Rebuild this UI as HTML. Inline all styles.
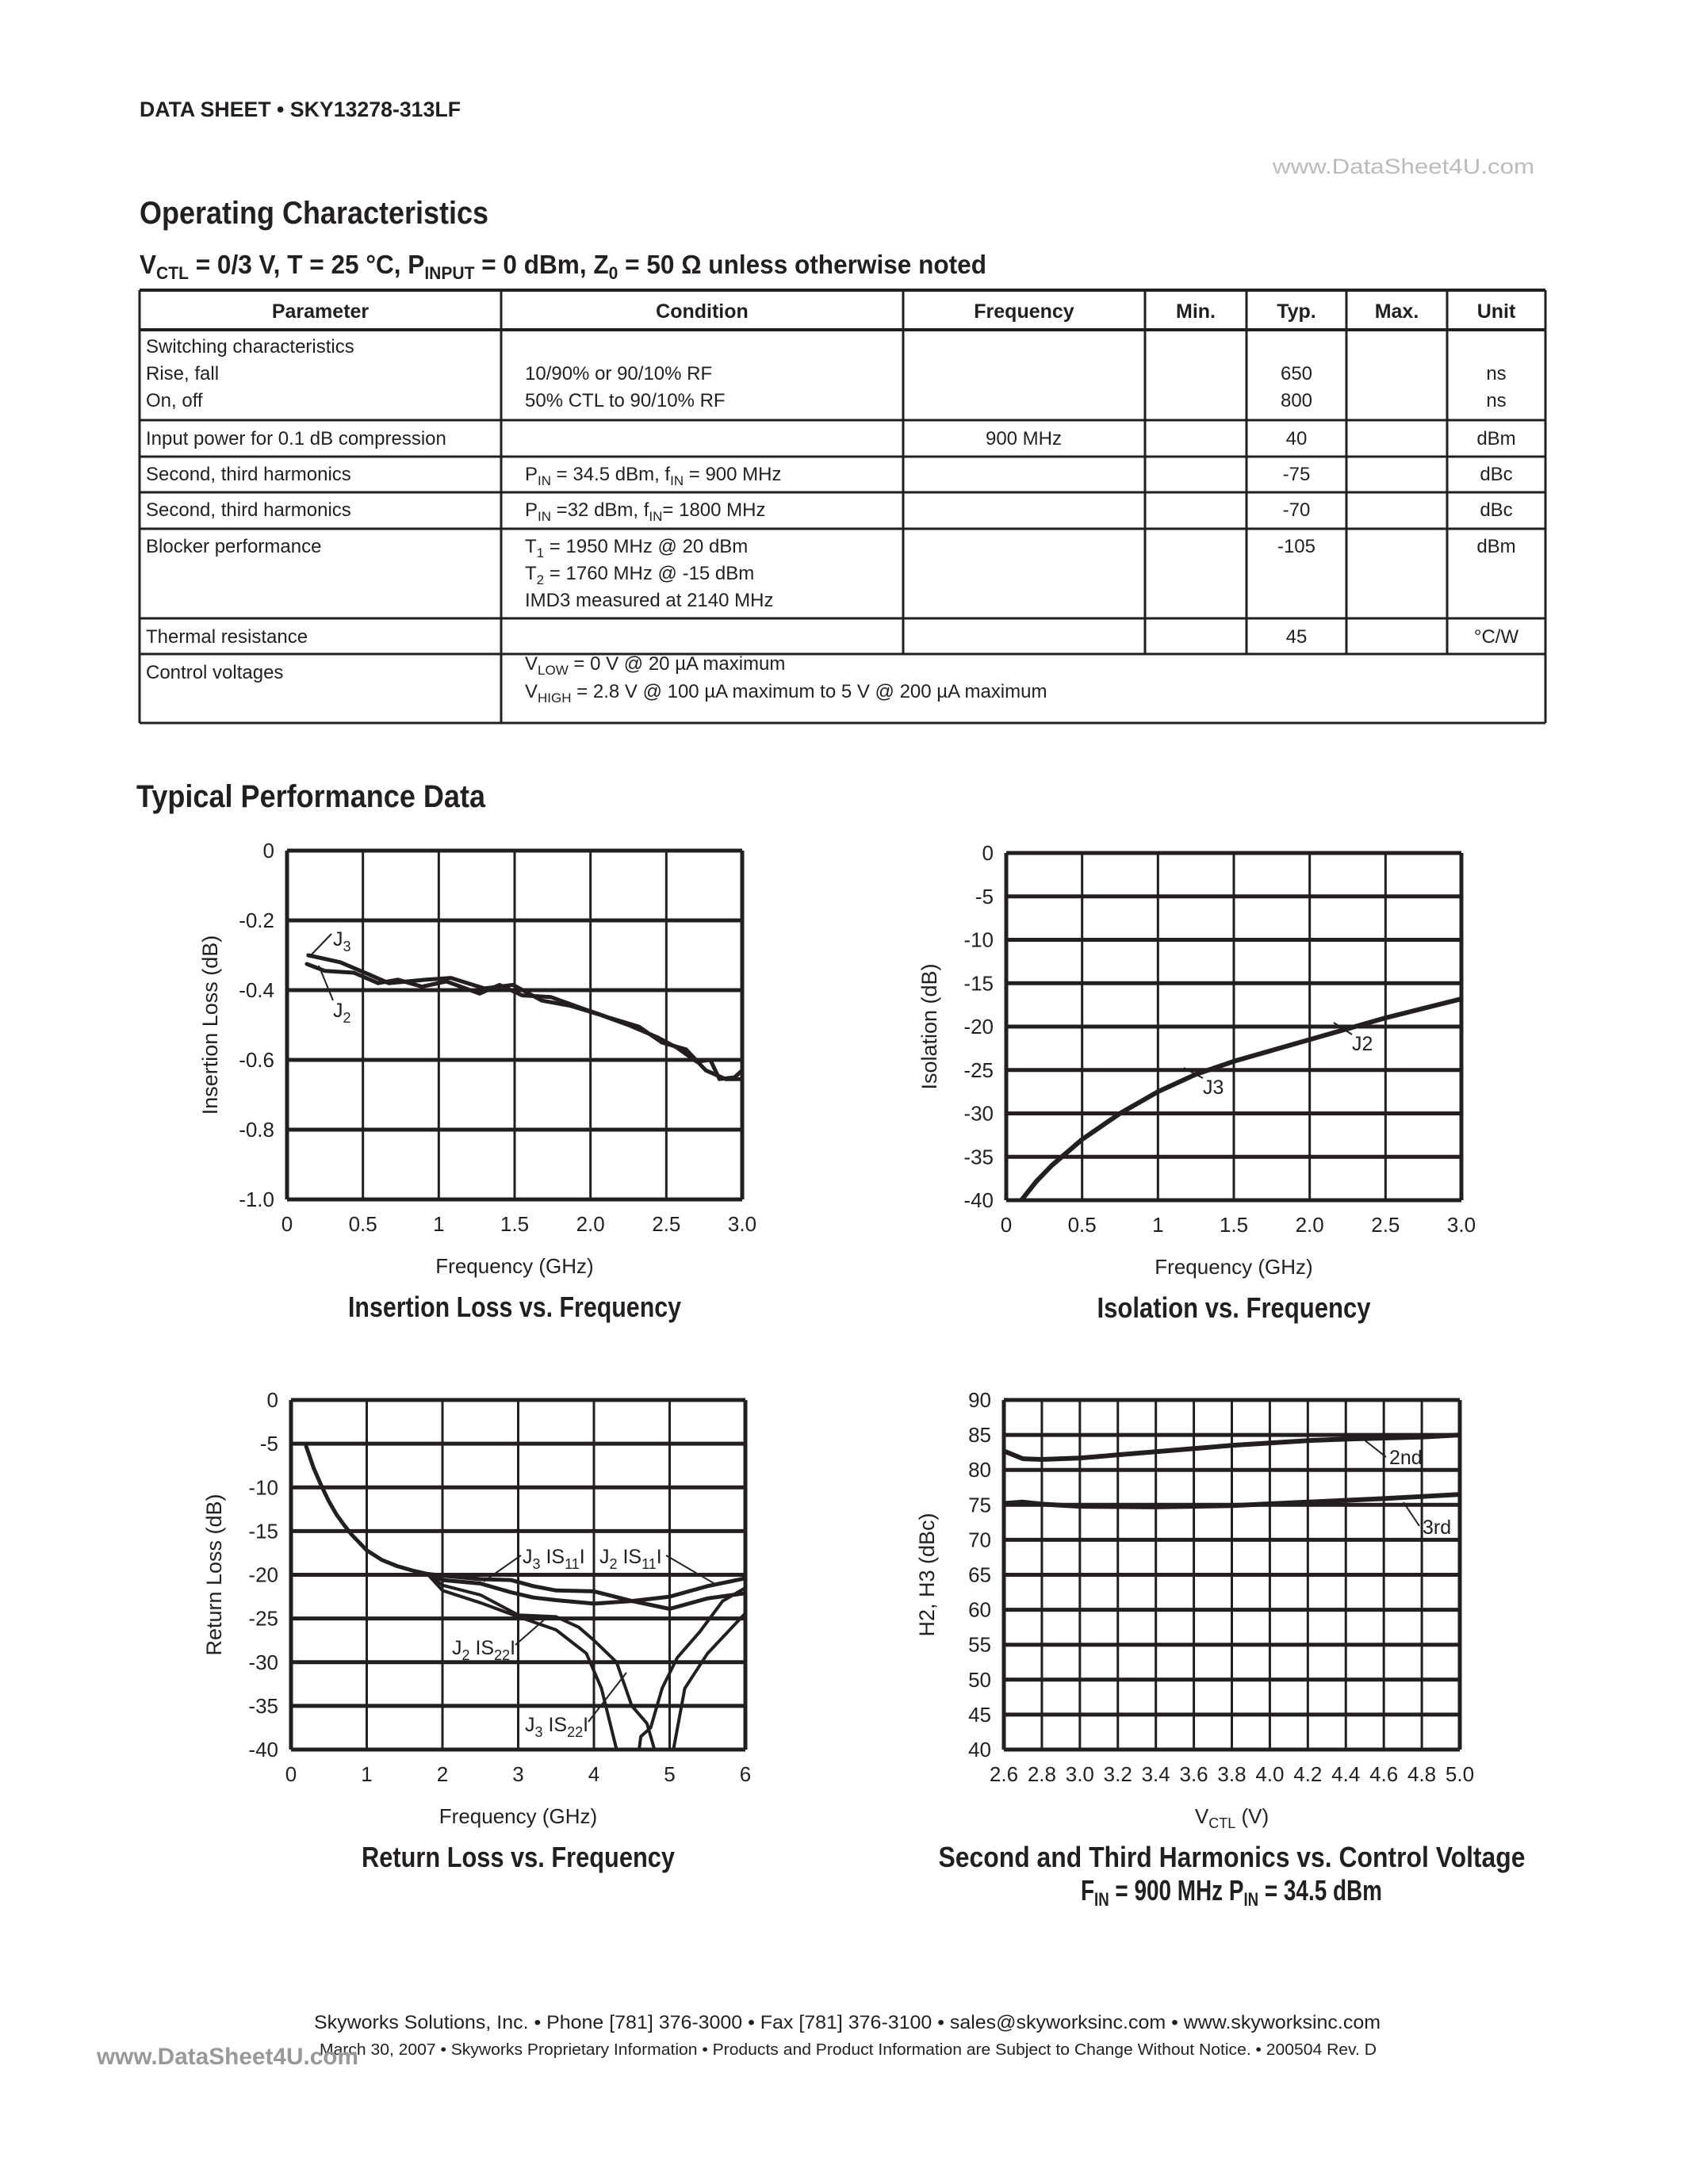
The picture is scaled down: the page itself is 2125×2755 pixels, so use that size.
<!DOCTYPE html>
<html><head><meta charset="utf-8">
<style>
body{margin:0;background:#fff}
svg text{font-family:"Liberation Sans Narrow","Liberation Sans",sans-serif;fill:#231f20}
.b{font-weight:bold}
</style></head>
<body>
<svg id="page" width="2125" height="2750" viewBox="0 0 2125 2750" xmlns="http://www.w3.org/2000/svg">
<text x="176" y="147" font-size="27" class="b" textLength="405" lengthAdjust="spacingAndGlyphs">DATA SHEET • SKY13278-313LF</text>
<text x="1605" y="219" font-size="27" style="fill:#bbb" textLength="330" lengthAdjust="spacingAndGlyphs">www.DataSheet4U.com</text>
<text x="176" y="282" font-size="40" class="b" textLength="440" lengthAdjust="spacingAndGlyphs">Operating Characteristics</text>
<text x="176" y="345" font-size="33" class="b" textLength="1068" lengthAdjust="spacingAndGlyphs">V<tspan font-size="22" dy="7">CTL</tspan><tspan dy="-7"> = 0/3 V, T = 25 °C, P</tspan><tspan font-size="22" dy="7">INPUT</tspan><tspan dy="-7"> = 0 dBm, Z</tspan><tspan font-size="22" dy="7">0</tspan><tspan dy="-7"> = 50 Ω unless otherwise noted</tspan></text>
<g id="table"></g>
<text x="172" y="1018" font-size="40" class="b" textLength="440" lengthAdjust="spacingAndGlyphs">Typical Performance Data</text>
<g id="c1"></g>
<g id="c2"></g>
<g id="c3"></g>
<g id="c4"></g>
<text x="396" y="2559" font-size="24" textLength="1345" lengthAdjust="spacingAndGlyphs">Skyworks Solutions, Inc.  •  Phone [781] 376-3000  •  Fax [781] 376-3100  •  sales@skyworksinc.com  •  www.skyworksinc.com</text>
<text x="403" y="2592" font-size="20" textLength="1333" lengthAdjust="spacingAndGlyphs">March 30, 2007  •  Skyworks Proprietary Information  •  Products and Product Information are Subject to Change Without Notice.  •  200504 Rev. D</text>
<text x="122" y="2604" font-size="30" class="b" style="fill:#999" textLength="330" lengthAdjust="spacingAndGlyphs">www.DataSheet4U.com</text>
</svg>
<script>
const NS="http://www.w3.org/2000/svg";
function mk(parent,tag,attrs,txt){const e=document.createElementNS(NS,tag);for(const k in attrs)e.setAttribute(k,attrs[k]);if(txt!==undefined)e.textContent=txt;parent.appendChild(e);return e;}
function addParts(t,parts,subSize,shift){let pend=0;parts.forEach(p=>{if(p[1]){mk(t,'tspan',{'font-size':subSize,dy:shift+pend},p[0]);pend=-shift;}else{const a={};if(pend)a.dy=pend;mk(t,'tspan',a,p[0]);pend=0;}});}

// ---------- Table ----------
const colX=[176,632,1139,1444,1572,1698,1825,1949];
const rowY=[366,416,530,576,621,667,780,825,912];
const headers=["Parameter","Condition","Frequency","Min.","Typ.","Max.","Unit"];
const T=document.getElementById('table');
for(let i=0;i<rowY.length;i++){const l=mk(T,'line',{x1:176,x2:1949,y1:rowY[i],y2:rowY[i],stroke:'#231f20','stroke-width':(i<2?4:3)});
}
for(let i=0;i<colX.length;i++){const full=(i===0||i===1||i===7);const l=mk(T,'line',{x1:colX[i],x2:colX[i],y1:366,y2:full?912:825,stroke:'#231f20','stroke-width':3});
}
headers.forEach((h,i)=>{const t=mk(T,'text',{x:(colX[i]+colX[i+1])/2,y:401,'text-anchor':'middle','font-size':25,'font-weight':'bold'},h);
});
const cells=[
[184,445,"Switching characteristics",'s'],[184,479,"Rise, fall",'s'],[184,513,"On, off",'s'],
[662,479,"10/90% or 90/10% RF",'s'],[662,513,"50% CTL to 90/10% RF",'s'],
[1635,479,"650",'m'],[1635,513,"800",'m'],[1887,479,"ns",'m'],[1887,513,"ns",'m'],
[184,561,"Input power for 0.1 dB compression",'s'],[1291,561,"900 MHz",'m'],[1635,561,"40",'m'],[1887,561,"dBm",'m'],
[184,606,"Second, third harmonics",'s'],[1635,606,"-75",'m'],[1887,606,"dBc",'m'],
[184,651,"Second, third harmonics",'s'],[1635,651,"-70",'m'],[1887,651,"dBc",'m'],
[184,697,"Blocker performance",'s'],[1635,697,"-105",'m'],[1887,697,"dBm",'m'],
[662,765,"IMD3 measured at 2140 MHz",'s'],
[184,811,"Thermal resistance",'s'],[1635,811,"45",'m'],[1887,811,"°C/W",'m'],
[184,856,"Control voltages",'s']];
cells.forEach(c=>{const t=mk(T,'text',{x:c[0],y:c[1],'font-size':24,'text-anchor':c[3]==='m'?'middle':'start'},c[2]);
});
function sub(x,y,parts){const t=mk(T,'text',{x:x,y:y,'font-size':24});
addParts(t,parts,17,6);}
sub(662,606,[["P"],["IN",1],[" = 34.5 dBm, f"],["IN",1],[" = 900 MHz"]]);
sub(662,651,[["P"],["IN",1],[" =32 dBm, f"],["IN",1],["= 1800 MHz"]]);
sub(662,697,[["T"],["1",1],[" = 1950 MHz @ 20 dBm"]]);
sub(662,731,[["T"],["2",1],[" = 1760 MHz @ -15 dBm"]]);
sub(662,845,[["V"],["LOW",1],[" = 0 V @ 20 µA maximum"]]);
sub(662,880,[["V"],["HIGH",1],[" = 2.8 V @ 100 µA maximum to 5 V @ 200 µA maximum"]]);

// ---------- Chart data ----------
const ilFreqJ3=[0.14,0.35,0.54,0.67,0.92,1.08,1.30,1.49,1.68,1.87,2.06,2.25,2.44,2.57,2.70,2.79,2.85,2.95,3.0];
const ilJ3=[-0.30,-0.32,-0.355,-0.38,-0.37,-0.365,-0.395,-0.385,-0.43,-0.445,-0.47,-0.50,-0.535,-0.565,-0.605,-0.60,-0.655,-0.65,-0.63];
const ilFreqJ2=[0.13,0.25,0.44,0.60,0.73,0.89,1.05,1.27,1.40,1.55,1.74,1.93,2.13,2.32,2.47,2.63,2.76,2.89,3.0];
const ilJ2=[-0.325,-0.345,-0.35,-0.38,-0.37,-0.39,-0.375,-0.41,-0.385,-0.415,-0.42,-0.45,-0.48,-0.505,-0.55,-0.57,-0.63,-0.655,-0.655];
const ilXTicks=["0","0.5","1","1.5","2.0","2.5","3.0"];
const ilYTicks=["0","-0.2","-0.4","-0.6","-0.8","-1.0"];

const isoFreq=[0.1,0.2,0.3,0.5,0.75,1.0,1.25,1.5,2.0,2.5,3.0];
const isoDb=[-40,-37.8,-36,-33,-30,-27.5,-25.5,-24,-21.5,-19,-16.8];
const isoXTicks=["0","0.5","1","1.5","2.0","2.5","3.0"];
const isoYTicks=["0","-5","-10","-15","-20","-25","-30","-35","-40"];

const rlFreqStart=[0.2,0.3,0.4,0.5,0.6,0.7,0.8,0.9,1.0,1.2,1.4,1.6,1.8,2.0];
const rlStart=[-5.3,-7.8,-9.8,-11.6,-13.1,-14.3,-15.4,-16.3,-17.2,-18.3,-19.0,-19.5,-19.9,-20.1];
const rlFreqS11=[2.0,2.5,2.9,3.2,3.5,4.0,4.5,5.0,5.5,6.0];
const rlJ3S11=[-20.1,-20.5,-20.6,-21.3,-21.8,-21.9,-23,-22.5,-21.3,-20.4];
const rlJ2S11=[-20.6,-21,-22,-22.6,-22.9,-23.3,-23,-23.9,-22.7,-22.1];
const rlFreqJ3S22=[1.8,2.0,2.5,3.0,3.5,3.9,4.1,4.3,4.35,4.55,4.62,4.75,4.9,5.1,5.4,5.7,6.0];
const rlJ3S22=[-19.9,-21.8,-23.2,-24.8,-26.3,-29,-33,-40,-43,-43,-38.5,-37.5,-33,-29.5,-26.5,-23,-21.5];
const rlFreqJ2S22=[1.8,2.0,2.5,3.0,3.5,3.8,4.0,4.3,4.5,4.7,4.8,4.85,5.0,5.05,5.2,5.5,6.0];
const rlJ2S22=[-19.9,-21.2,-22.3,-24.6,-24.8,-26,-27.5,-30,-35,-37,-40,-43,-43,-40,-33,-29,-24.4];
const rlXTicks=["0","1","2","3","4","5","6"];
const rlYTicks=["0","-5","-10","-15","-20","-25","-30","-35","-40"];

const hVctl=[2.6,2.7,2.8,3.0,3.4,3.8,4.2,4.4,4.8,5.0];
const h2nd=[82.7,81.6,81.5,81.7,82.6,83.5,84.2,84.4,84.7,85.0];
const hVctl3=[2.6,2.7,2.8,3.0,3.4,3.8,4.2,4.6,5.0];
const h3rd=[75.2,75.4,75.1,74.8,74.7,74.9,75.4,75.9,76.5];
const hXTicks=["2.6","2.8","3.0","3.2","3.4","3.6","3.8","4.0","4.2","4.4","4.6","4.8","5.0"];
const hYTicks=["90","85","80","75","70","65","60","55","50","45","40"];

// ---------- chart builder ----------
function chart(id,box,xmin,xmax,ymin,ymax,xt,yt,ytitle,xtitleFn,title,tLen){
  const g=document.getElementById(id);
  const [L,Tp,R,B]=box;
  const sx=v=>L+(v-xmin)/(xmax-xmin)*(R-L);
  const sy=v=>B-(v-ymin)/(ymax-ymin)*(B-Tp);
  const cid=id+'clip';
  const defs=mk(g,'defs',{});const cp=mk(defs,'clipPath',{id:cid});mk(cp,'rect',{x:L,y:Tp,width:R-L,height:B-Tp});
  const nx=xt.length-1, ny=yt.length-1;
  for(let i=0;i<=nx;i++){const x=L+i*(R-L)/nx;const l=mk(g,'line',{x1:x,x2:x,y1:Tp,y2:B,stroke:'#231f20','stroke-width':(i===0||i===nx)?5:3});
    
    const t=mk(g,'text',{x:x,y:B+40,'text-anchor':'middle','font-size':26},xt[i]);
    }
  for(let i=0;i<=ny;i++){const y=Tp+i*(B-Tp)/ny;const l=mk(g,'line',{x1:L,x2:R,y1:y,y2:y,stroke:'#231f20','stroke-width':5});
    
    const t=mk(g,'text',{x:L-16,y:y+9,'text-anchor':'end','font-size':26},yt[i]);
    }
  const yt2=mk(g,'text',{x:0,y:0,'text-anchor':'middle','font-size':27,transform:`translate(${L-88},${(Tp+B)/2}) rotate(-90)`,style:'font-family:"Liberation Sans",sans-serif'},ytitle);
  
  const xt2=xtitleFn(g,(L+R)/2,B+93);
  
  const tt=mk(g,'text',{x:(L+R)/2,y:B+148,'text-anchor':'middle','font-size':36,'font-weight':'bold',textLength:tLen,lengthAdjust:'spacingAndGlyphs'},title);
  
  const plot=mk(g,'g',{'clip-path':`url(#${cid})`});
  return {g,sx,sy,plot};
}
function series(c,xs,ys,name,w){
  let d='';xs.forEach((x,i)=>{d+=(i?'L':'M')+c.sx(x).toFixed(1)+','+c.sy(ys[i]).toFixed(1);});
  const p=mk(c.plot,'path',{d:d,fill:'none',stroke:'#231f20','stroke-width':w||5,'stroke-linejoin':'round','stroke-linecap':'round'});
  return p;
}
function label(c,x,y,parts,lx1,ly1,lx2,ly2,name){
  const t=mk(c.g,'text',{x:x,y:y,'font-size':25});
  
  addParts(t,parts,18,7);
  const l=mk(c.g,'line',{x1:lx1,y1:ly1,x2:lx2,y2:ly2,stroke:'#231f20','stroke-width':2});
  
}
const freqTitle=(g,x,y)=>mk(g,'text',{x:x,y:y,'text-anchor':'middle','font-size':26},'Frequency (GHz)');

// Chart 1
const c1=chart('c1',[362,1073,936,1513],0,3,-1,0,ilXTicks,ilYTicks,'Insertion Loss (dB)',freqTitle,'Insertion Loss vs. Frequency',420);
series(c1,ilFreqJ3,ilJ3,'series-j3');
series(c1,ilFreqJ2,ilJ2,'series-j2');
label(c1,420,1193,[["J"],["3",1]],418,1178,392,1205,'label-j3');
label(c1,420,1283,[["J"],["2",1]],420,1262,402,1218,'label-j2');

// Chart 2
const c2=chart('c2',[1269,1076,1843,1514],0,3,-40,0,isoXTicks,isoYTicks,'Isolation (dB)',freqTitle,'Isolation vs. Frequency',345);
series(c2,isoFreq,isoDb,'series-isolation',6);
label(c2,1705,1325,[["J2"]],1705,1305,1682,1290,'label-j2');
label(c2,1517,1380,[["J3"]],1517,1360,1493,1347,'label-j3');

// Chart 3
const c3=chart('c3',[367,1766,940,2207],0,6,-40,0,rlXTicks,rlYTicks,'Return Loss (dB)',freqTitle,'Return Loss vs. Frequency',395);
series(c3,rlFreqStart,rlStart,'series-common-start');
series(c3,rlFreqS11,rlJ3S11,'series-j3-s11');
series(c3,[1.8].concat(rlFreqS11),[-19.9].concat(rlJ2S11),'series-j2-s11');
series(c3,rlFreqJ3S22,rlJ3S22,'series-j3-s22',4);
series(c3,rlFreqJ2S22,rlJ2S22,'series-j2-s22',4);
label(c3,659,1972,[["J"],["3",1],[" IS"],["11",1],["I"]],657,1962,610,1995,'label-j3-s11');
label(c3,756,1972,[["J"],["2",1],[" IS"],["11",1],["I"]],840,1962,905,2000,'label-j2-s11');
label(c3,570,2087,[["J"],["2",1],[" IS"],["22",1],["I"]],650,2075,690,2040,'label-j2-s22');
label(c3,662,2184,[["J"],["3",1],[" IS"],["22",1],["I"]],742,2172,790,2110,'label-j3-s22');

// Chart 4
const c4=chart('c4',[1266,1766,1841,2207],2.6,5.0,40,90,hXTicks,hYTicks,'H2, H3 (dBc)',(g,x,y)=>{const t=mk(g,'text',{x:x,y:y,'text-anchor':'middle','font-size':26},'V');mk(t,'tspan',{'font-size':18,dy:6},'CTL');mk(t,'tspan',{dy:-6},' (V)');return t;},'Second and Third Harmonics vs. Control Voltage',740);
series(c4,hVctl,h2nd,'series-2nd',6);
series(c4,hVctl3,h3rd,'series-3rd',6);
label(c4,1752,1847,[["2nd"]],1748,1838,1715,1812,'label-2nd');
label(c4,1794,1935,[["3rd"]],1790,1925,1770,1895,'label-3rd');
const st=mk(c4.g,'text',{x:1553,y:2397,'text-anchor':'middle','font-size':36,'font-weight':'bold',textLength:380,lengthAdjust:'spacingAndGlyphs'});

mk(st,'tspan',{},'F');mk(st,'tspan',{'font-size':24,dy:7},'IN');mk(st,'tspan',{dy:-7},' = 900 MHz P');mk(st,'tspan',{'font-size':24,dy:7},'IN');mk(st,'tspan',{dy:-7},' = 34.5 dBm');
</script>
</body></html>
